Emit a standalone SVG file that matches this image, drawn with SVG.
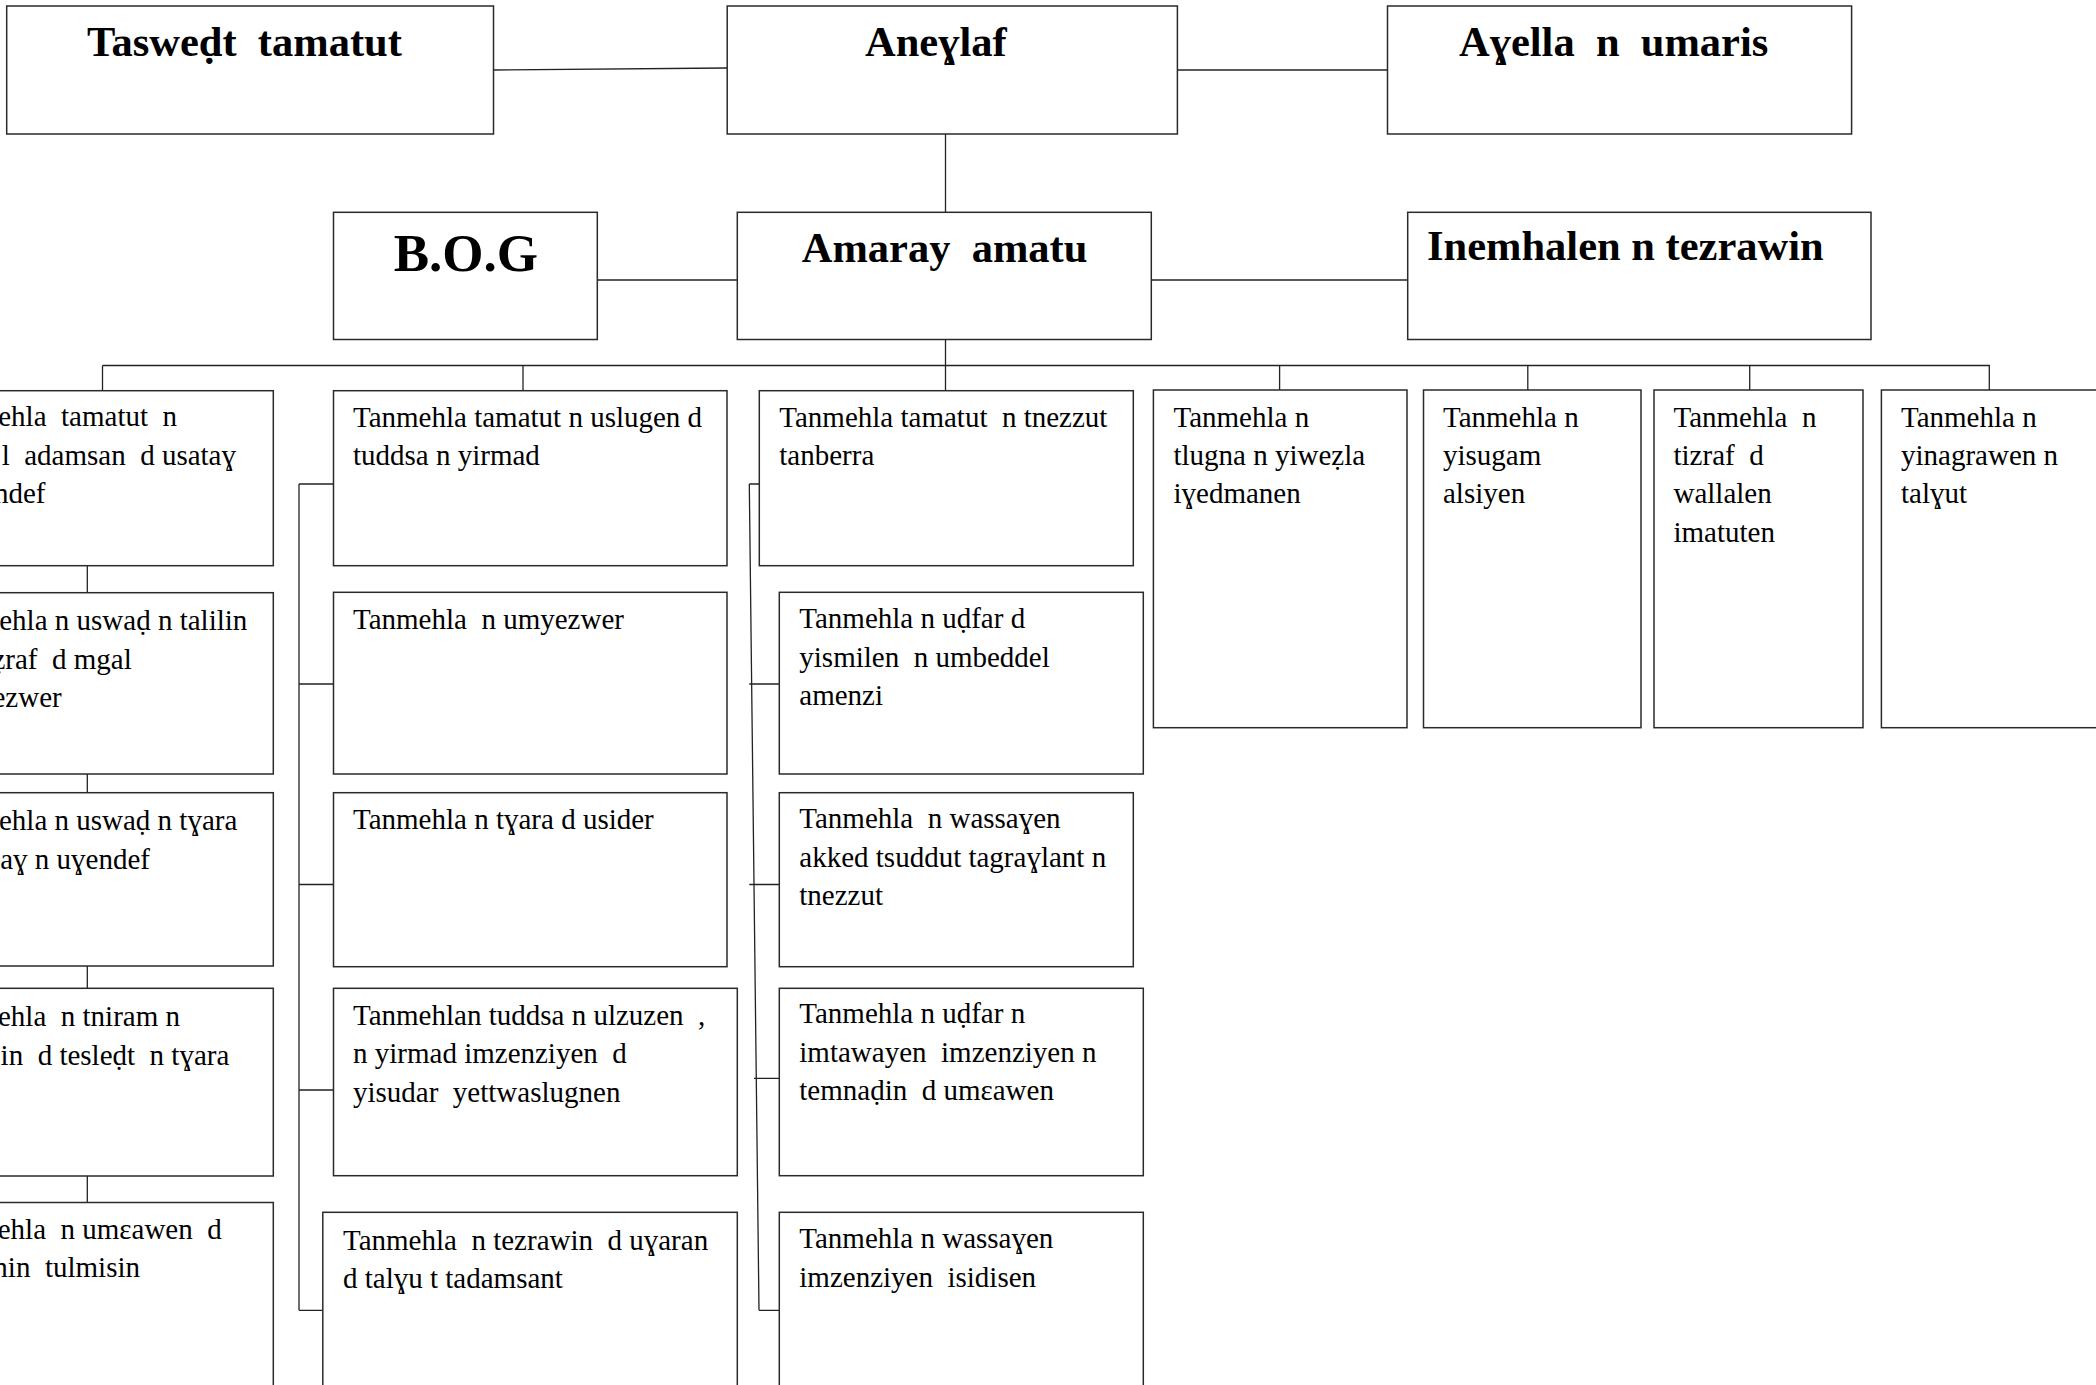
<svg xmlns="http://www.w3.org/2000/svg" width="2096" height="1385" viewBox="0 0 2096 1385">
<style>
.box{fill:#fff;stroke:#2a2a2a;stroke-width:1.5}
.ln{fill:none;stroke:#222;stroke-width:1.3}
.t{font-family:"Liberation Serif","Times New Roman",serif;font-size:29px;fill:#000;white-space:pre}
.h{font-family:"Liberation Serif","Times New Roman",serif;font-size:42.5px;font-weight:bold;fill:#000;white-space:pre}
</style>
<rect width="2096" height="1385" fill="#fff"/>
<g id="connectors">
<path class="ln" d="M493.5,70 L727,68"/>
<path class="ln" d="M1177.4,70 L1387.5,70"/>
<path class="ln" d="M945.5,134 V212.3"/>
<path class="ln" d="M597.3,280 H737.3"/>
<path class="ln" d="M1151.3,280 H1407.7"/>
<path class="ln" d="M945.5,339.5 V390.7"/>
<path class="ln" d="M102.5,365.5 H1990"/>
<path class="ln" d="M102.5,365.5 V390.7"/>
<path class="ln" d="M523,365.5 V390.7"/>
<path class="ln" d="M1279.6,365 V390"/>
<path class="ln" d="M1527.8,365 V390"/>
<path class="ln" d="M1749.7,365 V390"/>
<path class="ln" d="M1989.3,365 V390"/>
<path class="ln" d="M87.3,565.7 V592.7 M87.3,774 V792.7 M87.3,966 V988.3 M87.3,1176 V1202.5"/>
<path class="ln" d="M299,484 V1310.3 M299,484 H333.5 M299,684 H333.5 M299,884.5 H333.5 M299,1090 H333.5 M299,1310.3 H322.8"/>
<path class="ln" d="M749.3,484 L759,1310.3 M749.3,484 H759.3 M749.3,684 H779.3 M749.3,884.5 H779.3 M754,1078.3 H779.3 M759,1310.3 H779.3"/>
</g>
<g id="n-taswedt"><rect class="box" x="6.7" y="6" width="486.8" height="128"/><text class="h" x="87" y="56">Tasweḍt  tamatut</text></g>
<g id="n-aneglaf"><rect class="box" x="727.2" y="6" width="450.2" height="128"/><text class="h" x="865" y="56">Aneɣlaf</text></g>
<g id="n-ayella"><rect class="box" x="1387.5" y="6" width="464.1" height="128"/><text class="h" x="1459" y="56">Aɣella  n  umaris</text></g>
<g id="n-bog"><rect class="box" x="333.5" y="212.3" width="263.8" height="127.2"/><text class="h" x="393.7" y="271" style="font-size:53px">B.O.G</text></g>
<g id="n-amaray"><rect class="box" x="737.3" y="212.3" width="414" height="127.2"/><text class="h" x="801.7" y="261.7">Amaray  amatu</text></g>
<g id="n-inemhalen"><rect class="box" x="1407.7" y="212.3" width="463.3" height="127.2"/><text class="h" x="1427" y="260">Inemhalen n tezrawin</text></g>

<g id="n-l1"><rect class="box" x="-10" y="390.7" width="283.3" height="175"/>
<text class="t" text-anchor="end"><tspan x="177" y="426">ehla  tamatut  n</tspan><tspan x="236" y="464.5">l  adamsan  d usataɣ</tspan><tspan x="45.5" y="503">ndef</tspan></text></g>
<g id="n-l2"><rect class="box" x="-10" y="592.7" width="283.3" height="181.3"/>
<text class="t" text-anchor="end"><tspan x="247.3" y="630">ehla n uswaḍ n talilin</tspan><tspan x="131.7" y="668.5">ẓraf  d mgal</tspan><tspan x="61.7" y="707">ezwer</tspan></text></g>
<g id="n-l3"><rect class="box" x="-10" y="792.7" width="283.3" height="173.3"/>
<text class="t" text-anchor="end"><tspan x="237.3" y="830">ehla n uswaḍ n tɣara</tspan><tspan x="150" y="868.5">aɣ n uɣendef</tspan></text></g>
<g id="n-l4"><rect class="box" x="-10" y="988.3" width="283.3" height="187.7"/>
<text class="t" text-anchor="end"><tspan x="180" y="1026">ehla  n tniram n</tspan><tspan x="229.3" y="1064.5">in  d tesleḍt  n tɣara</tspan></text></g>
<g id="n-l5"><rect class="box" x="-10" y="1202.5" width="283.3" height="200"/>
<text class="t" text-anchor="end"><tspan x="221.7" y="1238.5">ehla  n umɛawen  d</tspan><tspan x="140" y="1277">nin  tulmisin</tspan></text></g>

<g id="n-m1"><rect class="box" x="333.5" y="390.7" width="393.5" height="175"/>
<text class="t"><tspan x="353" y="426.7">Tanmehla tamatut n uslugen d</tspan><tspan x="353" y="465">tuddsa n yirmad</tspan></text></g>
<g id="n-m2"><rect class="box" x="333.5" y="592.3" width="393.5" height="181.7"/>
<text class="t" x="353" y="628.5">Tanmehla  n umyezwer</text></g>
<g id="n-m3"><rect class="box" x="333.5" y="792.7" width="393.5" height="174"/>
<text class="t" x="353" y="829">Tanmehla n tɣara d usider</text></g>
<g id="n-m4"><rect class="box" x="333.5" y="988.3" width="403.8" height="187.4"/>
<text class="t"><tspan x="353" y="1025">Tanmehlan tuddsa n ulzuzen  ,</tspan><tspan x="353" y="1063.4">n yirmad imzenziyen  d</tspan><tspan x="353" y="1101.8">yisudar  yettwaslugnen</tspan></text></g>
<g id="n-m5"><rect class="box" x="322.8" y="1212.3" width="414.5" height="200"/>
<text class="t"><tspan x="343" y="1250">Tanmehla  n tezrawin  d uɣaran</tspan><tspan x="343" y="1288.4">d talɣu t tadamsant</tspan></text></g>

<g id="n-r1"><rect class="box" x="759.3" y="390.7" width="374" height="175"/>
<text class="t"><tspan x="779.3" y="426.7">Tanmehla tamatut  n tnezzut</tspan><tspan x="779.3" y="465">tanberra</tspan></text></g>
<g id="n-r2"><rect class="box" x="779.3" y="592.3" width="364" height="181.7"/>
<text class="t"><tspan x="799.3" y="628.3">Tanmehla n uḍfar d</tspan><tspan x="799.3" y="666.7">yismilen  n umbeddel</tspan><tspan x="799.3" y="705">amenzi</tspan></text></g>
<g id="n-r3"><rect class="box" x="779.3" y="792.7" width="354" height="174"/>
<text class="t"><tspan x="799.3" y="828.3">Tanmehla  n wassaɣen</tspan><tspan x="799.3" y="866.7">akked tsuddut tagraɣlant n</tspan><tspan x="799.3" y="905">tnezzut</tspan></text></g>
<g id="n-r4"><rect class="box" x="779.3" y="988.3" width="364" height="187.4"/>
<text class="t"><tspan x="799.3" y="1023.3">Tanmehla n uḍfar n</tspan><tspan x="799.3" y="1061.7">imtawayen  imzenziyen n</tspan><tspan x="799.3" y="1100">temnaḍin  d umɛawen</tspan></text></g>
<g id="n-r5"><rect class="box" x="779.3" y="1212.3" width="364" height="200"/>
<text class="t"><tspan x="799.3" y="1248.3">Tanmehla n wassaɣen</tspan><tspan x="799.3" y="1286.7">imzenziyen  isidisen</tspan></text></g>

<g id="n-a"><rect class="box" x="1153.4" y="390" width="253.6" height="337.7"/>
<text class="t"><tspan x="1173.5" y="426.7">Tanmehla n</tspan><tspan x="1173.5" y="465">tlugna n yiweẓla</tspan><tspan x="1173.5" y="503.3">iɣedmanen</tspan></text></g>
<g id="n-b"><rect class="box" x="1423.5" y="390" width="217.5" height="337.7"/>
<text class="t"><tspan x="1443" y="426.7">Tanmehla n</tspan><tspan x="1443" y="465">yisugam</tspan><tspan x="1443" y="503.3">alsiyen</tspan></text></g>
<g id="n-c"><rect class="box" x="1654" y="390" width="209" height="337.7"/>
<text class="t"><tspan x="1673.5" y="426.7">Tanmehla  n</tspan><tspan x="1673.5" y="465">tizraf  d</tspan><tspan x="1673.5" y="503.3">wallalen</tspan><tspan x="1673.5" y="541.7">imatuten</tspan></text></g>
<g id="n-d"><rect class="box" x="1881.4" y="390" width="230" height="337.7"/>
<text class="t"><tspan x="1901" y="426.7">Tanmehla n</tspan><tspan x="1901" y="465">yinagrawen n</tspan><tspan x="1901" y="503.3">talɣut</tspan></text></g>
</svg>
